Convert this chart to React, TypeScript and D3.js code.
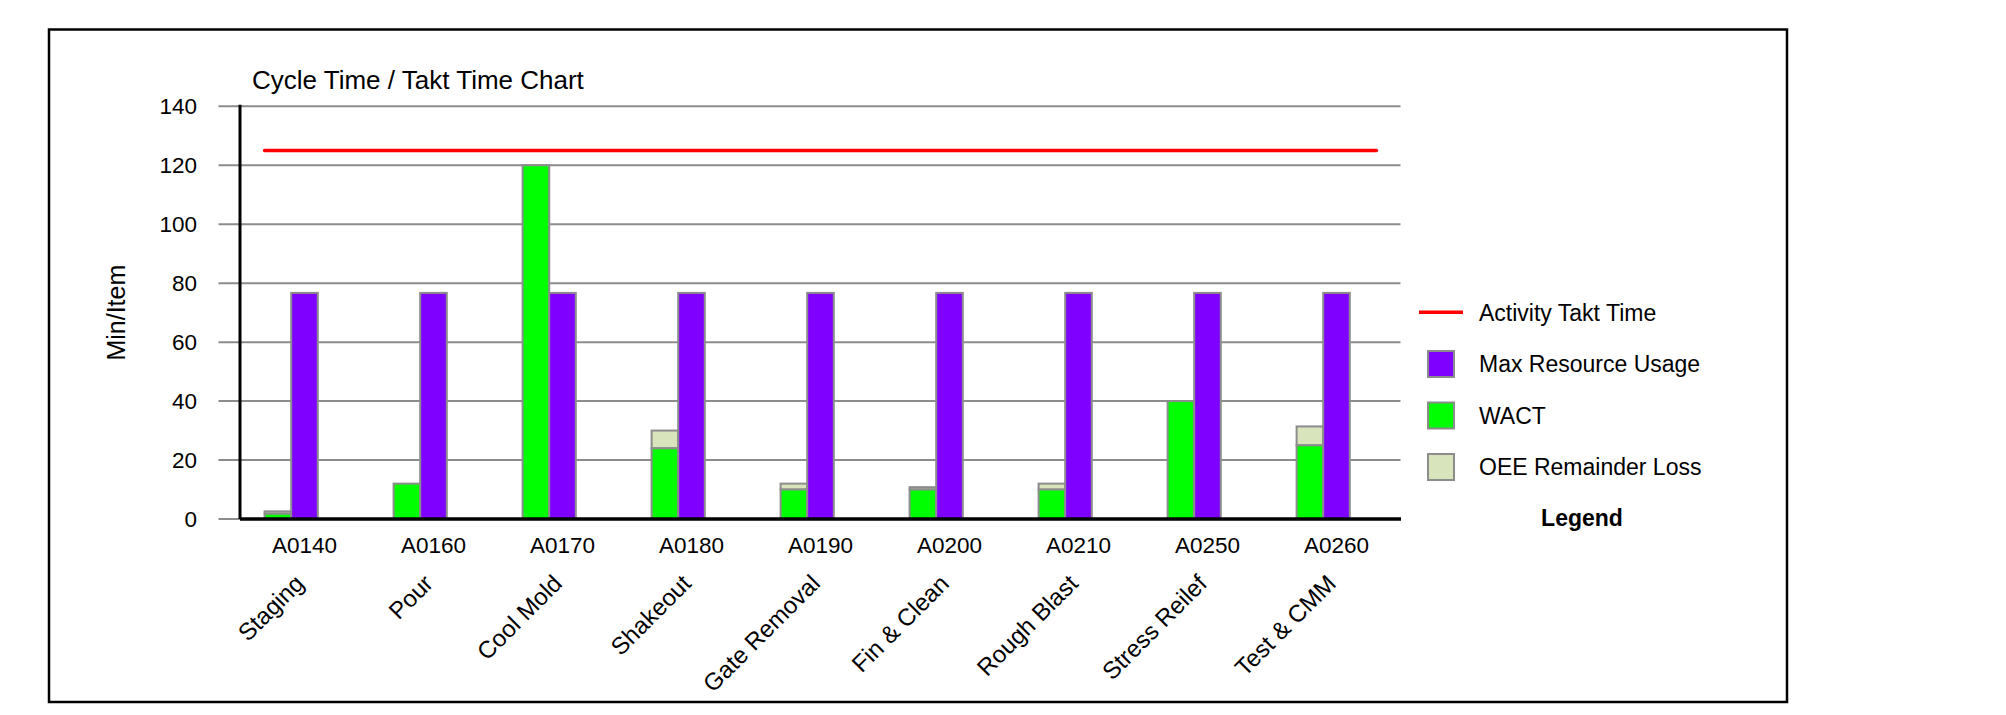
import React from "react";
import * as d3 from "d3";

const codes = ["A0140", "A0160", "A0170", "A0180", "A0190", "A0200", "A0210", "A0250", "A0260"];
const names = ["Staging", "Pour", "Cool Mold", "Shakeout", "Gate Removal", "Fin & Clean", "Rough Blast", "Stress Reilef", "Test & CMM"];
const wact = [1.8, 12, 120, 24, 10, 10, 10, 40, 25];
const oeeLoss = [0.8, 0, 0, 6, 2, 0.8, 2, 0, 6.4];
const maxResource = [76.7, 76.7, 76.7, 76.7, 76.7, 76.7, 76.7, 76.7, 76.7];
const taktTime = [125, 125, 125, 125, 125, 125, 125, 125, 125];
const yTicks = [0, 20, 40, 60, 80, 100, 120, 140];

const FONT = "'Liberation Sans', Arial, sans-serif";
const C_GREEN = "#00ff00";
const C_PURPLE = "#7f00ff";
const C_OEE = "#d8e4bc";
const C_RED = "#ff0000";
const C_STROKE = "#8c8c8c";

export default function App() {
  const W = 2006, H = 715;
  const plotL = 240, plotR = 1401;
  const y = d3.scaleLinear().domain([0, 140]).range([519, 106.3]);
  const x = d3.scaleBand<string>().domain(codes).range([plotL, plotR]).padding(0);
  const sub = d3.scaleBand<string>().domain(["wact", "max", "none"]).range([0, x.bandwidth()]).paddingInner(0).paddingOuter(0.925);
  const sw = sub.bandwidth();

  const linePts: [number, number][] = [];
  codes.forEach((c, i) => {
    const g0 = (x(c) as number) + (sub("wact") as number);
    const g1 = (x(c) as number) + (sub("none") as number) + sw;
    linePts.push([g0, y(taktTime[i])]);
    linePts.push([g1, y(taktTime[i])]);
  });
  const linePath = d3.line()(linePts) as string;

  const legendItems = [
    { label: "Max Resource Usage", color: C_PURPLE },
    { label: "WACT", color: C_GREEN },
    { label: "OEE Remainder Loss", color: C_OEE },
  ];

  return (
    <svg width={W} height={H} style={{ position: "absolute", left: 0, top: 0, background: "#fff" }} fontFamily={FONT}>
      <rect x={49} y={29.5} width={1738} height={672.5} fill="#fff" stroke="#000" strokeWidth={2.5} />
      <text x={252} y={89} fontSize={26} fill="#000">Cycle Time / Takt Time Chart</text>

      {yTicks.map((t) => (
        <g key={t}>
          <line x1={218.5} x2={1400.5} y1={y(t)} y2={y(t)} stroke="#8c8c8c" strokeWidth={2} />
          <text x={197} y={y(t)} dy="0.36em" textAnchor="end" fontSize={22.5} fill="#000">{t}</text>
        </g>
      ))}

      <text transform={`translate(116,${(y(0) + y(140)) / 2}) rotate(-90)`} textAnchor="middle" dy="0.36em" fontSize={25} fill="#000">Min/Item</text>

      {codes.map((c, i) => {
        const bx = x(c) as number;
        const gx = bx + (sub("wact") as number);
        const px = bx + (sub("max") as number);
        return (
          <g key={c}>
            {oeeLoss[i] > 0 && (
              <rect x={gx} y={y(wact[i] + oeeLoss[i])} width={sw} height={y(wact[i]) - y(wact[i] + oeeLoss[i])} fill={C_OEE} stroke={C_STROKE} strokeWidth={2} />
            )}
            <rect x={gx} y={y(wact[i])} width={sw} height={y(0) - y(wact[i])} fill={C_GREEN} stroke={C_STROKE} strokeWidth={2} />
            <rect x={px} y={y(maxResource[i])} width={sw} height={y(0) - y(maxResource[i])} fill={C_PURPLE} stroke={C_STROKE} strokeWidth={2} />
          </g>
        );
      })}

      <line x1={plotL} x2={plotR} y1={y(0)} y2={y(0)} stroke="#000" strokeWidth={3.5} />
      <line x1={plotL} x2={plotL} y1={y(140) - 1.5} y2={y(0)} stroke="#000" strokeWidth={3} />

      <path d={linePath} fill="none" stroke={C_RED} strokeWidth={3.5} strokeLinecap="round" />

      {codes.map((c, i) => {
        const cx = (x(c) as number) + x.bandwidth() / 2;
        return (
          <g key={"l" + c}>
            <text x={cx} y={553} textAnchor="middle" fontSize={22.5} fill="#000">{c}</text>
            <text transform={`translate(${cx + 1},${585}) rotate(-45)`} textAnchor="end" fontSize={24} fill="#000">{names[i]}</text>
          </g>
        );
      })}

      <line x1={1419} x2={1463} y1={312.3} y2={312.3} stroke={C_RED} strokeWidth={3.5} />
      <text x={1479} y={312.3} dy="0.36em" fontSize={23} fill="#000">Activity Takt Time</text>
      {legendItems.map((it, i) => {
        const cy = 364 + i * 51.5;
        return (
          <g key={it.label}>
            <rect x={1428} y={cy - 13} width={26} height={26} fill={it.color} stroke={C_STROKE} strokeWidth={2} />
            <text x={1479} y={cy} dy="0.36em" fontSize={23} fill="#000">{it.label}</text>
          </g>
        );
      })}
      <text x={1582} y={526} textAnchor="middle" fontSize={23} fontWeight="bold" fill="#000">Legend</text>
    </svg>
  );
}
